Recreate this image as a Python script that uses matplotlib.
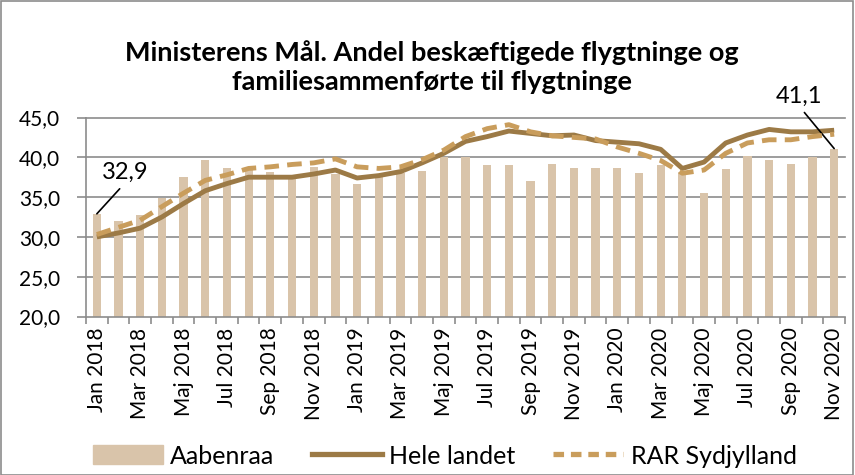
import matplotlib
matplotlib.use("Agg")
import matplotlib.pyplot as plt
from matplotlib.patches import Patch, Rectangle
from matplotlib.lines import Line2D
import numpy as np

months = ["Jan", "Feb", "Mar", "Apr", "Maj", "Jun", "Jul", "Aug", "Sep", "Okt", "Nov", "Dec"]
labels = [f"{m} {y}" for y in (2018, 2019, 2020) for m in months][:35]

aabenraa = [32.9, 32.0, 32.8, 34.9, 37.5, 39.7, 38.7, 38.5, 38.2, 37.6, 38.8, 37.9,
            36.6, 37.6, 38.0, 38.3, 40.0, 40.0, 39.0, 39.0, 37.0, 39.2, 38.6, 38.6,
            38.6, 38.0, 39.0, 38.1, 35.5, 38.5, 40.2, 39.6, 39.2, 40.1, 41.1]
hele_landet = [30.0, 30.5, 31.1, 32.5, 34.2, 35.8, 36.7, 37.5, 37.5, 37.5, 37.9, 38.4,
               37.4, 37.7, 38.2, 39.3, 40.5, 42.0, 42.6, 43.3, 43.0, 42.7, 42.8, 42.1,
               41.9, 41.7, 41.0, 38.6, 39.4, 41.8, 42.8, 43.5, 43.2, 43.2, 43.4]
rar_sydjylland = [30.3, 31.2, 32.1, 33.8, 35.5, 37.1, 37.8, 38.6, 38.8, 39.1, 39.3, 39.8,
                  38.8, 38.6, 38.8, 39.7, 40.9, 42.6, 43.6, 44.1, 43.2, 42.7, 42.5, 42.3,
                  41.3, 40.5, 39.6, 38.0, 38.4, 40.5, 41.8, 42.2, 42.2, 42.6, 42.9]

bar_color = "#D9C4AA"
solid_color = "#9C7A46"
dash_color = "#C99D5C"
grid_color = "#8C8C8C"

plt.rcParams["font.family"] = ["Lato", "DejaVu Sans"]

fig = plt.figure(figsize=(8.55, 4.75), dpi=100)
ax = fig.add_axes([86 / 855, 1 - 316.5 / 475, (845 - 86) / 855, (316.5 - 117.5) / 475])

x = np.arange(len(labels))
ax.bar(x, aabenraa, width=0.38, color=bar_color, zorder=2)
ax.plot(x, hele_landet, color=solid_color, lw=3.5, zorder=3, solid_capstyle="butt")
ax.plot(x, rar_sydjylland, color=dash_color, lw=3.5, zorder=4, dashes=(3.0, 1.7))

ax.set_xlim(-0.5, len(labels) - 0.5)
ax.set_ylim(20, 45)
ax.set_yticks(np.arange(20, 46, 5))
ax.set_yticklabels([f"{v:.1f}".replace(".", ",") for v in np.arange(20, 46, 5)], fontsize=15)
for v in np.arange(25, 46, 5):
    ax.axhline(v, color=grid_color, lw=1.2, zorder=1, clip_on=False)

ax.set_xticks(x[::2])
ax.set_xticklabels(labels[::2], rotation=90, fontsize=15)
ax.set_xticks(np.arange(-0.5, len(labels), 1), minor=True)
ax.tick_params(axis="x", which="major", length=0, pad=8)
ax.tick_params(axis="x", which="minor", length=5, color=grid_color, width=1.2)
ax.tick_params(axis="y", length=6.5, color=grid_color, width=1.2, pad=12)

for s in ["top", "right"]:
    ax.spines[s].set_visible(False)
for s in ["left", "bottom"]:
    ax.spines[s].set_color(grid_color)
    ax.spines[s].set_linewidth(1.2)

# data labels with leader lines
leader = dict(arrowstyle="-", color="black", lw=1.2, relpos=(0.5, 0.0), shrinkA=3, shrinkB=0)
ax.annotate("32,9", xy=(0, aabenraa[0]), xytext=(1.3, 38.1), fontsize=17,
            ha="center", va="center", arrowprops=leader, annotation_clip=False)
ax.annotate("41,1", xy=(34, aabenraa[-1]), xytext=(32.4, 47.7), fontsize=17,
            ha="center", va="center", arrowprops=leader, annotation_clip=False)

fig.text(0.505, 1 - 67 / 475, "Ministerens Mål. Andel beskæftigede flygtninge og\nfamiliesammenførte til flygtninge",
         ha="center", va="center", fontsize=19.5, fontweight="bold", linespacing=1.25)

handles = [Patch(color=bar_color),
           Line2D([0], [0], color=solid_color, lw=3.8),
           Line2D([0], [0], color=dash_color, lw=3.8, dashes=(2, 1.3))]
fig.legend(handles, ["Aabenraa", "Hele landet", "RAR Sydjylland"], loc="center",
           bbox_to_anchor=(0.52, 1 - 456 / 475), ncol=3, frameon=False,
           handlelength=2.8, handleheight=0.8, columnspacing=1.5, handletextpad=0.3,
           prop={"family": ["Lato", "DejaVu Sans"], "size": 18})

fig.add_artist(Rectangle((0.001, 0.001), 0.997, 0.997, transform=fig.transFigure,
                         fill=False, edgecolor="#8C8C8C", lw=1.2))

fig.savefig("out.png", dpi=100)
